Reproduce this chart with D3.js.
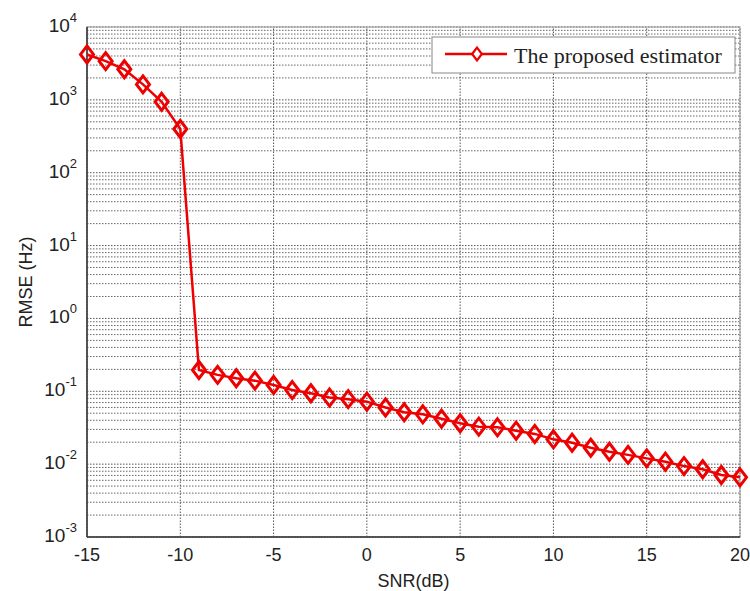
<!DOCTYPE html>
<html>
<head>
<meta charset="utf-8">
<script src="https://cdn.jsdelivr.net/npm/d3@7"></script>
<style>
  body { margin: 0; background: #fff; }
</style>
</head>
<body>
<div id="chart"></div>
<script>
// data
const snr = [-15, -14, -13, -12, -11, -10, -9, -8, -7, -6, -5, -4, -3, -2, -1, 0, 1, 2, 3, 4, 5,
             6, 7, 8, 9, 10, 11, 12, 13, 14, 15, 16, 17, 18, 19, 20];
const rmse = [4200, 3400, 2630, 1630, 940, 398, 0.196, 0.168, 0.151, 0.14, 0.122, 0.104, 0.094,
              0.082, 0.078, 0.072, 0.06, 0.0515, 0.0483, 0.042, 0.0364, 0.0327, 0.032, 0.0288,
              0.026, 0.0219, 0.0197, 0.0168, 0.0148, 0.0134, 0.012, 0.0108, 0.0094, 0.0085,
              0.0071, 0.0066];
const xTicks = [-15, -10, -5, 0, 5, 10, 15, 20];
const yExps = [-3, -2, -1, 0, 1, 2, 3, 4];
const seriesName = "The proposed estimator";

const W = 750, H = 591;
const margin = {left: 87, right: 10, top: 27, bottom: 54};

const svg = d3.select("#chart").append("svg")
    .attr("width", W).attr("height", H);

const x = d3.scaleLinear().domain([-15, 20]).range([margin.left, W - margin.right]);
const y = d3.scaleLog().domain([1e-3, 1e4]).range([H - margin.bottom, margin.top]);

const grid = svg.append("g");
// minor horizontal grid
yExps.slice(0, -1).forEach(e => {
    for (let m = 2; m <= 9; m++) {
        grid.append("line")
            .attr("x1", x(-15)).attr("x2", x(20))
            .attr("y1", y(m * Math.pow(10, e))).attr("y2", y(m * Math.pow(10, e)))
            .attr("stroke", "#666").attr("stroke-width", 1)
            .attr("stroke-dasharray", "1.5,1.5");
    }
});
// major grid
yExps.forEach(e => {
    grid.append("line")
        .attr("x1", x(-15)).attr("x2", x(20))
        .attr("y1", y(Math.pow(10, e))).attr("y2", y(Math.pow(10, e)))
        .attr("stroke", "#555").attr("stroke-dasharray", "1.5,1.5");
});
xTicks.forEach(t => {
    grid.append("line")
        .attr("x1", x(t)).attr("x2", x(t))
        .attr("y1", y(1e-3)).attr("y2", y(1e4))
        .attr("stroke", "#555").attr("stroke-dasharray", "1.5,1.5");
});

// frame
svg.append("rect")
    .attr("x", x(-15)).attr("y", y(1e4))
    .attr("width", x(20) - x(-15)).attr("height", y(1e-3) - y(1e4))
    .attr("fill", "none").attr("stroke", "#999");
svg.append("line").attr("x1", x(-15)).attr("x2", x(-15))
    .attr("y1", y(1e4)).attr("y2", y(1e-3)).attr("stroke", "#333").attr("stroke-width", 1.5);
svg.append("line").attr("x1", x(-15)).attr("x2", x(20))
    .attr("y1", y(1e-3)).attr("y2", y(1e-3)).attr("stroke", "#333").attr("stroke-width", 1.5);

// tick labels
svg.append("g").selectAll("text").data(xTicks).join("text")
    .attr("x", d => x(d)).attr("y", y(1e-3) + 24)
    .attr("text-anchor", "middle")
    .style("font", "18px 'Liberation Sans', Arial, sans-serif").attr("fill", "#222")
    .text(d => d);

const yl = svg.append("g").selectAll("text").data(yExps).join("text")
    .attr("x", x(-15) - 10).attr("y", d => y(Math.pow(10, d)) + 5)
    .attr("text-anchor", "end")
    .style("font", "19px 'Liberation Sans', Arial, sans-serif").attr("fill", "#222");
yl.append("tspan").text("10");
yl.append("tspan").attr("dy", -10).style("font-size", "13px").text(d => d);

// axis titles
svg.append("text")
    .attr("x", (x(-15) + x(20)) / 2).attr("y", 587)
    .attr("text-anchor", "middle")
    .style("font", "18px 'Liberation Sans', Arial, sans-serif").attr("fill", "#222")
    .text("SNR(dB)");
svg.append("text")
    .attr("transform", `translate(32,${(y(1e-3) + y(1e4)) / 2}) rotate(-90)`)
    .attr("text-anchor", "middle")
    .style("font", "18px 'Liberation Sans', Arial, sans-serif").attr("fill", "#222")
    .text("RMSE (Hz)");

// series
const pts = snr.map((s, i) => [s, rmse[i]]);
const red = "#ee0000";
svg.append("path")
    .datum(pts)
    .attr("fill", "none").attr("stroke", red).attr("stroke-width", 2.5)
    .attr("d", d3.line().x(d => x(d[0])).y(d => y(d[1])));

const diamond = "M0,-8.5L6.5,0L0,8.5L-6.5,0Z";
svg.append("g").selectAll("path").data(pts).join("path")
    .attr("transform", d => `translate(${x(d[0])},${y(d[1])})`)
    .attr("d", diamond)
    .attr("fill", "none").attr("stroke", red).attr("stroke-width", 3);

// legend
const lg = svg.append("g").attr("transform", "translate(432,37)");
lg.append("rect").attr("width", 303).attr("height", 36)
    .attr("fill", "#fff").attr("stroke", "#888");
lg.append("line").attr("x1", 13).attr("x2", 75).attr("y1", 17).attr("y2", 17)
    .attr("stroke", red).attr("stroke-width", 2.5);
lg.append("path").attr("transform", "translate(45,17) scale(0.75)").attr("d", diamond)
    .attr("fill", "#fff").attr("stroke", red).attr("stroke-width", 3);
lg.append("text").attr("x", 82).attr("y", 26)
    .style("font", "22px 'Liberation Serif', 'Times New Roman', serif").attr("fill", "#222")
    .text(seriesName);
</script>
</body>
</html>
